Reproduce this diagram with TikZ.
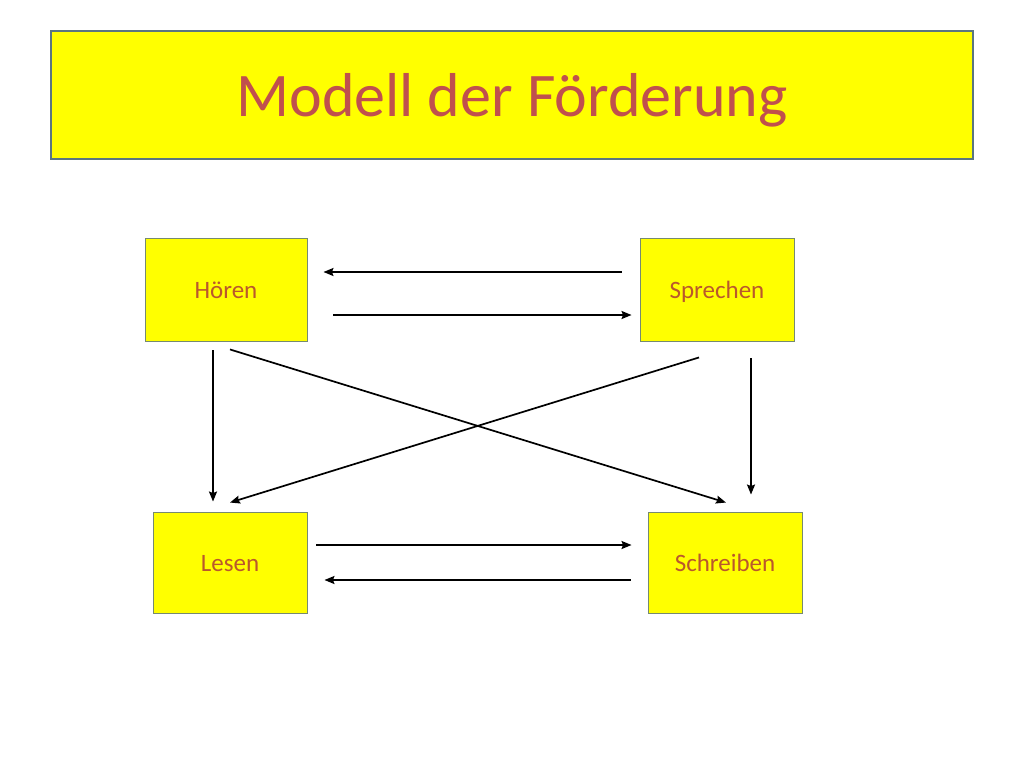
\documentclass[tikz,border=0pt]{standalone}
\usepackage{fontspec}
\setmainfont{Carlito}
\usepackage{xcolor}
\usetikzlibrary{arrows.meta}
\definecolor{titlered}{RGB}{192,80,77}
\definecolor{boxtext}{RGB}{186,88,44}
\definecolor{boxline}{RGB}{118,138,112}
\definecolor{frameline}{RGB}{90,118,128}
\definecolor{boxfill}{RGB}{255,255,0}

\begin{document}
\begin{tikzpicture}[x=1pt,y=-1pt,
		skill/.style={draw=boxline, line width=0.9pt, fill=boxfill, inner sep=0pt,
			minimum height=103pt, text=boxtext, text height=21pt, text depth=3pt,
			font=\fontsize{25}{30}\selectfont},
		arr/.style={-{Stealth[length=10pt,width=8pt,inset=1.5pt]}, line width=1.7pt}]
		\useasboundingbox (0,0) rectangle (1024,768);
		% Title
		\node (titlebox) [draw=frameline, line width=1.1pt, fill=boxfill, minimum width=922pt,
			minimum height=128pt, inner sep=0pt] at (512,95) {};
		\node (title) [text=titlered, font=\fontsize{62}{72}\selectfont] at (512,100) {Modell der Förderung};
		
		% Define the nodes
		\node (hoeren) [skill, minimum width=162pt] at (226,289.5) {Hören};
		\node (sprechen) [skill, minimum width=154pt] at (717,289.5) {Sprechen};
		\node (lesen) [skill, minimum width=154pt, minimum height=101pt] at (230,562.5) {Lesen};
		\node (schreiben) [skill, minimum width=154pt, minimum height=101pt] at (725,562.5) {Schreiben};
		
		% Connect the nodes with arrows
		\draw[arr] ([xshift=-18pt,yshift=17.5pt]sprechen.west) -- ([xshift=16pt,yshift=17.5pt]hoeren.east);
		\draw[arr] ([xshift=26pt,yshift=-25.5pt]hoeren.east) -- ([xshift=-8pt,yshift=-25.5pt]sprechen.west);
		\draw[arr] ([xshift=-13pt,yshift=-9pt]hoeren.south) -- ([xshift=-17pt,yshift=10pt]lesen.north);
		\draw[arr] ([xshift=4pt,yshift=-8pt]hoeren.south) -- ([xshift=1pt,yshift=9pt]schreiben.north);
		\draw[arr] ([xshift=-18pt,yshift=-16pt]sprechen.south) -- ([yshift=9pt]lesen.north);
		\draw[arr] ([xshift=34pt,yshift=-17pt]sprechen.south) -- ([xshift=26pt,yshift=17pt]schreiben.north);
		\draw[arr] ([xshift=9pt,yshift=17.5pt]lesen.east) -- ([xshift=-16pt,yshift=17.5pt]schreiben.west);
		\draw[arr] ([xshift=-17pt,yshift=-17.5pt]schreiben.west) -- ([xshift=17pt,yshift=-17.5pt]lesen.east);
	\end{tikzpicture}
\end{document}
